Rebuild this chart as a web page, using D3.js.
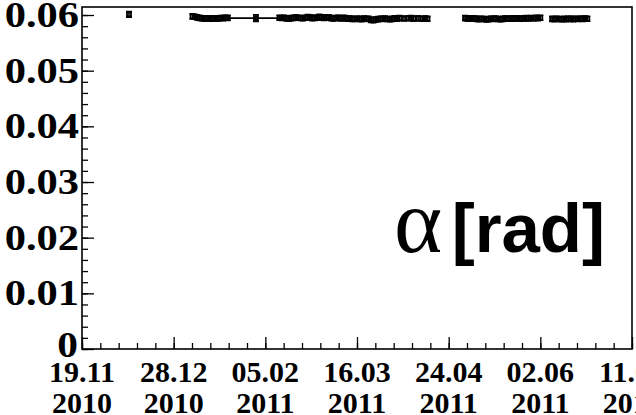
<!DOCTYPE html>
<html>
<head>
<meta charset="utf-8">
<script src="https://cdn.jsdelivr.net/npm/d3@7"></script>
<style>
  html, body { margin: 0; padding: 0; background: #fff; }
  svg { display: block; }
</style>
</head>
<body>
<svg id="chart" width="636" height="415"></svg>
<script>
// Run start date and axis range
const startDate = "2010-11-19";
const endDate = "2011-07-11";

// Days since start of run for each measurement
const dayOffsets = [
  20,
  47, 48, 49, 50, 51, 52, 53, 54, 55, 56, 57, 58, 59, 60, 61, 62,
  74,
  84, 85, 86, 87, 88, 89, 90, 91, 92, 93, 94, 95, 96, 97, 98, 99, 100,
  101, 102, 103, 104, 105, 106, 107, 108, 109, 110, 111, 112, 113, 114, 115,
  116, 117, 118, 119, 120, 121, 122, 123, 124, 125, 126, 127, 128, 129, 130,
  131, 132, 133, 134, 135, 137, 139, 140, 141, 143, 145, 146, 147,
  163, 164, 165, 166, 167, 168, 169, 170, 171, 172, 173, 174, 175, 176, 177,
  178, 179, 180, 181, 182, 183, 184, 185, 186, 187, 188, 189, 190, 191, 192, 193, 194, 195,
  200, 201, 202, 203, 204, 205, 206, 207, 208, 209, 210, 211, 212, 213, 214, 215
];

// Tilt angle alpha [rad]
const alphaValues = [
  0.06012,
  0.05975, 0.05968, 0.05955, 0.05948, 0.05942, 0.05938, 0.05936, 0.05940, 0.05934, 0.05938, 0.05932, 0.05940, 0.05946, 0.05944, 0.05950, 0.05948,
  0.05945,
  0.05950, 0.05946, 0.05952, 0.05940, 0.05936, 0.05944, 0.05948, 0.05956, 0.05950, 0.05946, 0.05942, 0.05950, 0.05962, 0.05958, 0.05944, 0.05948, 0.05952,
  0.05966, 0.05954, 0.05948, 0.05956, 0.05960, 0.05944, 0.05940, 0.05946, 0.05952, 0.05938, 0.05948, 0.05944, 0.05932, 0.05936, 0.05930,
  0.05928, 0.05934, 0.05930, 0.05926, 0.05936, 0.05932, 0.05930, 0.05912, 0.05908, 0.05920, 0.05926, 0.05932, 0.05930, 0.05936, 0.05928,
  0.05924, 0.05930, 0.05940, 0.05936, 0.05944, 0.05938, 0.05942, 0.05946, 0.05936, 0.05940, 0.05934, 0.05938, 0.05932,
  0.05944, 0.05940, 0.05936, 0.05942, 0.05938, 0.05930, 0.05926, 0.05932, 0.05928, 0.05922, 0.05926, 0.05934, 0.05930, 0.05936, 0.05928,
  0.05924, 0.05930, 0.05938, 0.05934, 0.05932, 0.05938, 0.05936, 0.05942, 0.05938, 0.05934, 0.05940, 0.05944, 0.05940, 0.05946, 0.05942, 0.05948, 0.05944, 0.05950,
  0.05930, 0.05926, 0.05932, 0.05928, 0.05924, 0.05930, 0.05926, 0.05934, 0.05930, 0.05926, 0.05932, 0.05928, 0.05934, 0.05930, 0.05936, 0.05932
];

// Statistical uncertainty on alpha
const alphaErrors = [
  0.00050,
  0.00045, 0.00045, 0.00045, 0.00045, 0.00045, 0.00045, 0.00045, 0.00045, 0.00045, 0.00045, 0.00045, 0.00045, 0.00045, 0.00045, 0.00045, 0.00045,
  0.00060,
  0.00045, 0.00045, 0.00045, 0.00045, 0.00045, 0.00045, 0.00045, 0.00045, 0.00045, 0.00045, 0.00045, 0.00045, 0.00045, 0.00045, 0.00045, 0.00045, 0.00045,
  0.00045, 0.00045, 0.00045, 0.00045, 0.00045, 0.00045, 0.00045, 0.00045, 0.00045, 0.00045, 0.00045, 0.00045, 0.00045, 0.00045, 0.00045,
  0.00045, 0.00045, 0.00045, 0.00045, 0.00045, 0.00045, 0.00045, 0.00045, 0.00045, 0.00045, 0.00045, 0.00045, 0.00045, 0.00045, 0.00045,
  0.00045, 0.00045, 0.00045, 0.00045, 0.00045, 0.00045, 0.00045, 0.00045, 0.00045, 0.00045, 0.00045, 0.00045, 0.00045,
  0.00045, 0.00045, 0.00045, 0.00045, 0.00045, 0.00045, 0.00045, 0.00045, 0.00045, 0.00045, 0.00045, 0.00045, 0.00045, 0.00045, 0.00045,
  0.00045, 0.00045, 0.00045, 0.00045, 0.00045, 0.00045, 0.00045, 0.00045, 0.00045, 0.00045, 0.00045, 0.00045, 0.00045, 0.00045, 0.00045, 0.00045, 0.00045, 0.00045,
  0.00045, 0.00045, 0.00045, 0.00045, 0.00045, 0.00045, 0.00045, 0.00045, 0.00045, 0.00045, 0.00045, 0.00045, 0.00045, 0.00045, 0.00045, 0.00045
];

// Time span (days, half-width) covered by each measurement
const spanHalfDays = dayOffsets.map((d, i) => (i === 17 ? 12 : 0));

// Date tick labels (day.month / year)
const tickDays = ["19.11", "28.12", "05.02", "16.03", "24.04", "02.06", "11.07"];
const tickYears = ["2010", "2010", "2011", "2011", "2011", "2011", "2011"];
const tickOffsets = [0, 39, 78, 117, 156, 195, 234];

const yTicks = [0, 0.01, 0.02, 0.03, 0.04, 0.05, 0.06];
const yTickLabels = ["0", "0.01", "0.02", "0.03", "0.04", "0.05", "0.06"];

const svg = d3.select("#chart");
const frame = { left: 82, right: 632, top: 7, bottom: 349 };

const t0 = new Date(startDate + "T00:00:00Z");
const dayMs = 86400000;
const toDate = d => new Date(t0.getTime() + d * dayMs);

const x = d3.scaleUtc()
  .domain([t0, new Date(endDate + "T00:00:00Z")])
  .range([frame.left, frame.right]);

const y = d3.scaleLinear()
  .domain([0, 0.06144])
  .range([frame.bottom, frame.top]);

const serif = "'Liberation Serif', 'Times New Roman', serif";
const sans = "'Liberation Sans', Arial, Helvetica, sans-serif";

// Minor / major ticks on the time axis (pointing into the frame)
const minorX = d3.range(0, 234 + 0.01, 39 / 5).map(toDate);
svg.append("g")
  .attr("transform", `translate(0,${frame.bottom})`)
  .call(d3.axisBottom(x).tickValues(minorX).tickSize(-6).tickFormat(""))
  .call(g => g.select(".domain").remove());
svg.append("g")
  .attr("transform", `translate(0,${frame.bottom})`)
  .call(d3.axisBottom(x).tickValues(tickOffsets.map(toDate)).tickSize(-12).tickFormat(""))
  .call(g => g.select(".domain").remove());

// Minor / major ticks on the y axis
const minorY = d3.range(0, 0.0612, 0.002);
svg.append("g")
  .attr("transform", `translate(${frame.left},0)`)
  .call(d3.axisLeft(y).tickValues(minorY).tickSize(-6).tickFormat(""))
  .call(g => g.select(".domain").remove());
svg.append("g")
  .attr("transform", `translate(${frame.left},0)`)
  .call(d3.axisLeft(y).tickValues(yTicks).tickSize(-12).tickFormat(""))
  .call(g => g.select(".domain").remove());

svg.selectAll(".tick line").attr("stroke", "#000").attr("stroke-width", 1.3);

// Frame
svg.append("rect")
  .attr("x", frame.left).attr("y", frame.top)
  .attr("width", frame.right - frame.left).attr("height", frame.bottom - frame.top)
  .attr("fill", "none").attr("stroke", "#000").attr("stroke-width", 1.6);

// Y tick labels (wide bold serif)
svg.append("g").selectAll("text")
  .data(yTicks)
  .join("text")
  .attr("transform", (d, i) => i === 0
    ? `translate(${frame.left - 4},${y(d) + 8}) scale(1.15,1)`
    : `translate(${frame.left - 3},${y(d) + 12}) scale(1.18,1)`)
  .attr("text-anchor", "end")
  .attr("font-family", serif)
  .attr("font-weight", "bold")
  .attr("font-size", 36)
  .text((d, i) => yTickLabels[i]);

// X tick labels (two lines)
const xl = svg.append("g").selectAll("g")
  .data(tickOffsets)
  .join("g")
  .attr("transform", d => `translate(${x(toDate(d))},0)`);
xl.append("text")
  .attr("y", 382)
  .attr("text-anchor", "middle")
  .attr("font-family", serif).attr("font-weight", "bold").attr("font-size", 30)
  .text((d, i) => tickDays[i]);
xl.append("text")
  .attr("y", 413)
  .attr("text-anchor", "middle")
  .attr("font-family", serif).attr("font-weight", "bold").attr("font-size", 30)
  .text((d, i) => tickYears[i]);

// Measurements: error bars with end caps and open square markers
const pts = dayOffsets.map((d, i) => ({ d, v: alphaValues[i], e: alphaErrors[i], s: spanHalfDays[i] }));
const gp = svg.append("g").attr("stroke", "#000").attr("fill", "none").attr("stroke-width", 1.6);
gp.selectAll("line.ey")
  .data(pts).join("line").attr("class", "ey")
  .attr("x1", p => x(toDate(p.d))).attr("x2", p => x(toDate(p.d)))
  .attr("y1", p => y(p.v - p.e)).attr("y2", p => y(p.v + p.e));
gp.selectAll("path.cap")
  .data(pts).join("path").attr("class", "cap")
  .attr("d", p => {
    const cx = x(toDate(p.d));
    const lo = y(p.v - p.e), hi = y(p.v + p.e);
    return `M${cx - 3},${lo}H${cx + 3}M${cx - 3},${hi}H${cx + 3}`;
  });
gp.selectAll("line.ex")
  .data(pts.filter(p => p.s > 0)).join("line").attr("class", "ex")
  .attr("x1", p => x(toDate(p.d - p.s))).attr("x2", p => x(toDate(p.d + p.s)))
  .attr("y1", p => y(p.v)).attr("y2", p => y(p.v));
gp.selectAll("rect")
  .data(pts).join("rect")
  .attr("x", p => x(toDate(p.d)) - 2).attr("y", p => y(p.v) - 2)
  .attr("width", 4).attr("height", 4)
  .attr("stroke-width", 1.8);

// Quantity label
svg.append("text")
  .attr("x", 394).attr("y", 252)
  .attr("font-family", serif).attr("font-size", 92)
  .text("α");
svg.append("text")
  .attr("x", 605).attr("y", 252)
  .attr("text-anchor", "end")
  .attr("font-family", sans).attr("font-weight", "bold").attr("font-size", 69)
  .text("[rad]");
</script>
</body>
</html>
